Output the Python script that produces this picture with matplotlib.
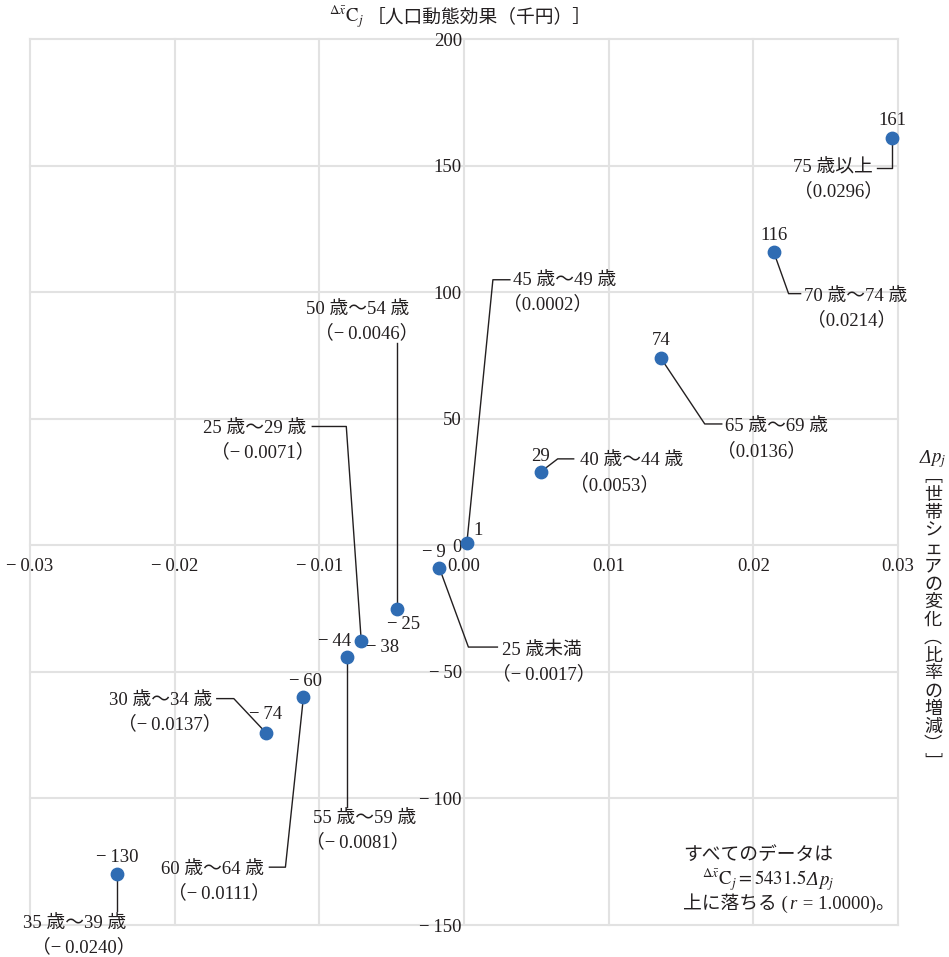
import matplotlib
matplotlib.use("Agg")
import matplotlib.pyplot as plt
from matplotlib.offsetbox import TextArea, HPacker, AnnotationBbox

plt.rcParams['font.family'] = ['Liberation Serif', 'Noto Sans CJK JP', 'DejaVu Serif']
plt.rcParams['mathtext.fontset'] = 'stix'

# --- data -------------------------------------------------------------
age_groups = ["25 歳未満", "25 歳～29 歳", "30 歳～34 歳", "35 歳～39 歳",
              "40 歳～44 歳", "45 歳～49 歳", "50 歳～54 歳", "55 歳～59 歳",
              "60 歳～64 歳", "65 歳～69 歳", "70 歳～74 歳", "75 歳以上"]
share_change = [-0.0017, -0.0071, -0.0137, -0.0240, 0.0053, 0.0002,
                -0.0046, -0.0081, -0.0111, 0.0136, 0.0214, 0.0296]
demo_effect = [-9, -38, -74, -130, 29, 1, -25, -44, -60, 74, 116, 161]

x_ticks = [-0.03, -0.02, -0.01, 0.0, 0.01, 0.02, 0.03]
x_tick_labels = ["−\u20090.03", "−\u20090.02", "−\u20090.01", "0.00", "0.01", "0.02", "0.03"]
y_ticks = [-150, -100, -50, 0, 50, 100, 150, 200]
y_tick_labels = ["−\u2009150", "−\u2009100", "−\u200950", "0", "50", "100", "150", "200"]

# --- label layout (pixel offsets from each point, y up) ----------------
value_offsets = [(-6, 16), (21, -6), (0, 18), (0, 17), (0, 15), (11, 12),
                 (6, -16), (-12, 15), (2, 16), (0, 17), (0, 16), (0, 17)]
leader_paths = [
    [(0, 0), (29, -79), (58, -79)],
    [(0, 0), (-15, 215), (-49, 215)],
    [(0, 0), (-32, 34), (-49, 34)],
    [(0, 0), (0, -37)],
    [(0, 0), (17, 13), (33, 13)],
    [(0, 0), (26, 263), (43, 263)],
    [(0, 0), (0, 266)],
    [(0, 0), (0, -150)],
    [(0, 0), (-18, -170), (-34, -170)],
    [(0, 0), (44, -66), (61, -66)],
    [(0, 0), (15, -42), (27, -42)],
    [(0, 0), (0, -30), (-15, -30)],
]
# first line anchor, alignment and extra x shift of the second line
text_offsets = [(63, -82), (-55, 213), (-54, 32), (9, -49), (39, 11), (46, 262),
                (12, 299), (-34, -162), (-39, -172), (64, -69), (30, -45), (-19, -30)]
text_ha = ["left", "right", "right", "right", "left", "left",
           "right", "left", "right", "left", "left", "right"]
line2_dx = [-10, 8, 10, 10, -10, -10, 9, -7, 6, -8, 3, 10]
line_gap = 24

ink = "#231f20"
dot = "#2f6cb3"
grid_c = "#e2e2e2"
fs = 13.5


def signed(v, fmt):
    return format(v, fmt).replace("-", "−\u2009")


def ta(s, **kw):
    return TextArea(s, textprops=dict(fontsize=fs, color=ink, **kw))


fig = plt.figure(figsize=(9.49, 9.57), dpi=100)
ax = fig.add_axes([30 / 949, 32 / 957, 868 / 949, 886 / 957])
ax.set_xlim(-0.03, 0.03)
ax.set_ylim(-150, 200)

ax.spines['left'].set_position('zero')
ax.spines['bottom'].set_position('zero')
for s in ax.spines.values():
    s.set_visible(False)

ax.set_xticks(x_ticks, x_tick_labels)
ax.set_yticks(y_ticks, y_tick_labels)
ax.tick_params(length=0, labelsize=fs, labelcolor=ink)
ax.tick_params(axis='x', pad=9)
ax.tick_params(axis='y', pad=1.5)
ax.grid(True, color=grid_c, lw=1.5)
ax.set_axisbelow(True)
for gl in ax.get_xgridlines() + ax.get_ygridlines():
    gl.set_clip_on(False)

# leader lines
to_disp = ax.transData
to_data = ax.transData.inverted()
for x, y, path in zip(share_change, demo_effect, leader_paths):
    px, py = to_disp.transform((x, y))
    pts = to_data.transform([(px + dx, py + dy) for dx, dy in path])
    ax.plot(pts[:, 0], pts[:, 1], color=ink, lw=1, zorder=3, clip_on=False)

ax.scatter(share_change, demo_effect, s=80, color=dot, zorder=4, clip_on=False)

for i, (x, y) in enumerate(zip(share_change, demo_effect)):
    ax.annotate(signed(y, "d"), (x, y), xytext=value_offsets[i],
                textcoords='offset pixels', ha='center', va='center',
                fontsize=fs, color=ink, annotation_clip=False)
    tx, ty = text_offsets[i]
    ax.annotate(age_groups[i], (x, y), xytext=(tx, ty),
                textcoords='offset pixels', ha=text_ha[i], va='center',
                fontsize=fs, color=ink, annotation_clip=False)
    ax.annotate("（" + signed(share_change[i], ".4f") + "）", (x, y),
                xytext=(tx + line2_dx[i], ty - line_gap),
                textcoords='offset pixels', ha=text_ha[i], va='center',
                fontsize=fs, color=ink, annotation_clip=False)

# y axis title (top)
title_box = HPacker(children=[
    ta(r"${}^{\Delta\bar{x}}\mathrm{C}_{j}$"),
    ta("［人口動態効果（千円）］"),
], align='baseline', pad=0, sep=2)
fig.add_artist(AnnotationBbox(title_box, (460, 957 - 17), xycoords='figure pixels',
                              box_alignment=(0.5, 0.5), frameon=False))

# x axis title (right, vertical writing)
dp_box = HPacker(children=[ta("Δ", style='italic'), ta(r"$p_j$")],
                 align='baseline', pad=0, sep=0)
fig.add_artist(AnnotationBbox(dp_box, (933, 957 - 460), xycoords='figure pixels',
                              box_alignment=(0.5, 0.5), frameon=False))
vert = "﹇世帯シェアの変化︵比率の増減︶﹈"
fig.text(933 / 949, 1 - 468 / 957, "\n".join(vert), ha='center', va='top',
         fontsize=13, color=ink, linespacing=0.99, family='Noto Sans CJK JP')

# note
fig.text(683 / 949, 1 - 855 / 957, "すべてのデータは", ha='left', va='center',
         fontsize=fs, color=ink)
eq_box = HPacker(children=[
    ta(r"${}^{\Delta\bar{x}}\mathrm{C}_{j} = 5431.5$"),
    ta("Δ", style='italic'),
    ta(r"$p_j$"),
], align='baseline', pad=0, sep=0)
fig.add_artist(AnnotationBbox(eq_box, (702, 957 - 880), xycoords='figure pixels',
                              box_alignment=(0, 0.5), frameon=False))
note_box = HPacker(children=[
    ta("上に落ちる ("),
    ta("r", style='italic'),
    ta(" = 1.0000)。"),
], align='baseline', pad=0, sep=1)
fig.add_artist(AnnotationBbox(note_box, (683, 957 - 903), xycoords='figure pixels',
                              box_alignment=(0, 0.5), frameon=False))

fig.savefig("out.png", dpi=100)
